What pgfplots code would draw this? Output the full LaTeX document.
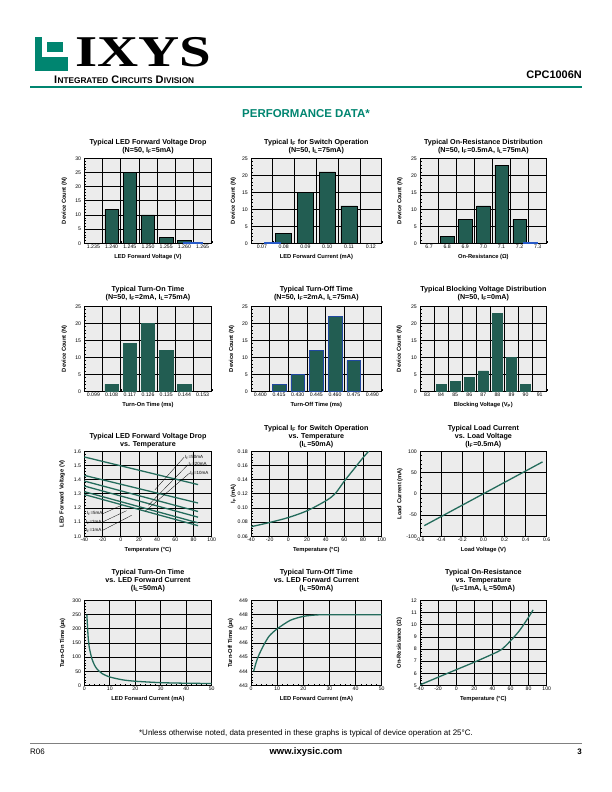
\documentclass[border=0pt]{standalone}
\usepackage{fontspec}
\setmainfont{Liberation Sans}
\newfontfamily\serifb{Liberation Serif}
\usepackage{pgfplots}
\pgfplotsset{compat=1.18}
\definecolor{barc}{RGB}{34,93,82}
\definecolor{lnc}{RGB}{36,108,92}
\definecolor{ixteal}{RGB}{0,133,112}
\definecolor{bgc}{RGB}{236,236,236}
\definecolor{stub}{RGB}{40,90,200}
\pgfplotsset{
  base/.style={
    scale only axis,
    axis line style={line width=0.9pt},
    axis background/.style={fill=bgc},
    tick align=inside, tick pos=left,
    major tick length=0pt, minor tick length=1.8pt,
    every tick/.style={black,line width=0.4pt},
    grid style={black,line width=0.8pt},
    minor grid style={black,line width=0.8pt},
    ymajorgrids,
    minor y tick num=4,
    tick label style={font=\fontsize{5.2}{5.5}\selectfont, inner sep=1pt},
    /pgf/number format/assume math mode=true,
    label style={font=\bfseries\fontsize{5.8}{6}\selectfont},
    title style={font=\bfseries\fontsize{7.2}{8}\selectfont, align=center, anchor=south, inner sep=0pt, at={(axis description cs:0.5,1)}},
    xlabel style={at={(axis description cs:0.5,0)}, anchor=center, yshift=-13.6pt},
    yticklabel style={xshift=-2pt},
    xticklabel style={yshift=-0.3pt},
    anchor=south west, width=127.4bp, height=85bp,
  },
  ylab/.style={ylabel style={at={(axis description cs:-#1,0.5)}, anchor=center}},
  barax/.style={base, xmin=0.5, xtick={1,...,#1}, minor xtick={1.5,2.5,...,#1}, xminorgrids, ymin=0},
  bars/.style={ybar, bar shift=0pt, bar width=0.74, fill=barc, draw=black, line width=0.5pt},
  stubbar/.style={ybar, bar shift=0pt, fill=stub, draw=stub, line width=0.3pt},
  lineax/.style={base, xmajorgrids},
  curve/.style={lnc, line width=1.3pt, no marks},
}
\begin{document}
\begin{tikzpicture}[x=1bp,y=1bp]
\useasboundingbox (0,0) rectangle (612,792);
% ---------- header ----------
\fill[ixteal] (35,721) rectangle (68,755);
\fill[white] (42,735) rectangle (68,755);
\fill[ixteal] (47,740) rectangle (63,750);
\node[anchor=base west, inner sep=0, text depth=0pt, font=\serifb\bfseries\fontsize{42}{42}\selectfont, xscale=1.36, yscale=1.05] at (75,725.5) {IXYS};
\node[anchor=base west, inner sep=0, font=\bfseries] at (54,708.5) {{\fontsize{11}{11}\selectfont I\kern0.3pt}{\fontsize{8.3}{8}\selectfont NTEGRATED}\hspace{3pt}{\fontsize{11}{11}\selectfont C\kern0.3pt}{\fontsize{8.3}{8}\selectfont IRCUITS}\hspace{3pt}{\fontsize{11}{11}\selectfont D\kern0.3pt}{\fontsize{8.3}{8}\selectfont IVISION}};
\node[anchor=base east, inner sep=0, font=\bfseries\fontsize{11}{11}\selectfont] at (582,713) {CPC1006N};
\draw[ixteal, line width=1.5] (30,705) -- (582,705);
\node[font=\bfseries\fontsize{11.5}{12}\selectfont, text=ixteal] at (306,678) {PERFORMANCE DATA*};
% ---------- footer ----------
\node[font=\fontsize{8}{9}\selectfont] at (306,59) {*Unless otherwise noted, data presented in these graphs is typical of device operation at 25°C.};
\draw[gray, line width=0.5] (30,49) -- (582,49);
\node[anchor=west, inner sep=0, font=\fontsize{8}{9}\selectfont] at (30,40) {R06};
\node[font=\bfseries\fontsize{9.5}{10}\selectfont] at (306,40) {www.ixysic.com};
\node[anchor=east, inner sep=0, font=\bfseries\fontsize{8}{9}\selectfont] at (582,40) {3};

% ---------- Row 1 ----------
\begin{axis}[barax=7, xmax=7.5, at={(84.3bp,548.7bp)}, ymax=30, ytick={0,5,...,30},
  title style={yshift=-1.5pt},
  xticklabels={1.235,1.240,1.245,1.250,1.255,1.260,1.265},
  title={Typical LED Forward Voltage Drop\\(N=50, I\textsubscript{F}=5mA)},
  xlabel={LED Forward Voltage (V)}, ylabel={Device Count (N)}, ylab=0.157]
\addplot[bars] coordinates {(2,12) (3,25) (4,10) (5,2) (6,1)};
\addplot[stubbar, bar width=1.0] coordinates {(6.45,0.35)};
\end{axis}

\begin{axis}[barax=6, xmax=6.5, at={(251bp,548.7bp)}, width=130.7bp, ymax=25, ytick={0,5,...,25},
  title style={yshift=-1.5pt},
  xticklabels={0.07,0.08,0.09,0.10,0.11,0.12},
  title={Typical I\textsubscript{F} for Switch Operation\\(N=50, I\textsubscript{L}=75mA)},
  xlabel={LED Forward Current (mA)}, ylabel={Device Count (N)}, ylab=0.135]
\addplot[bars] coordinates {(2,3) (3,15) (4,21) (5,11)};
\addplot[stubbar, bar width=0.72] coordinates {(1.46,0.3)};
\end{axis}

\begin{axis}[barax=7, xmax=7.5, at={(420bp,548.7bp)}, width=126.7bp, ymax=25, ytick={0,5,...,25},
  title style={yshift=-1.5pt},
  xticklabels={6.7,6.8,6.9,7.0,7.1,7.2,7.3},
  title={Typical On-Resistance Distribution\\(N=50, I\textsubscript{F}=0.5mA, I\textsubscript{L}=75mA)},
  xlabel={On-Resistance (Ω)}, ylabel={Device Count (N)}, ylab=0.158]
\addplot[bars] coordinates {(2,2) (3,7) (4,11) (5,23) (6,7)};
\addplot[stubbar, bar width=0.75] coordinates {(6.58,0.3)};
\end{axis}

% ---------- Row 2 ----------
\begin{axis}[barax=7, xmax=7.5, at={(84.3bp,400.7bp)}, ymax=25, ytick={0,5,...,25},
  title style={yshift=-1.3pt},
  xticklabels={0.099,0.108,0.117,0.126,0.135,0.144,0.153},
  title={Typical Turn-On Time\\(N=50, I\textsubscript{F}=2mA, I\textsubscript{L}=75mA)},
  xlabel={Turn-On Time (ms)}, ylabel={Device Count (N)}, ylab=0.157]
\addplot[bars, draw=barc] coordinates {(2,2) (3,14) (4,20) (5,12) (6,2)};
\end{axis}

\begin{axis}[barax=7, xmax=7.5, at={(251bp,400.7bp)}, width=130.7bp, ymax=25, ytick={0,5,...,25},
  title style={yshift=-1.3pt},
  xticklabels={0.400,0.415,0.430,0.445,0.460,0.475,0.490},
  title={Typical Turn-Off Time\\(N=50, I\textsubscript{F}=2mA, I\textsubscript{L}=75mA)},
  xlabel={Turn-Off Time (ms)}, ylabel={Device Count (N)}, ylab=0.148]
\addplot[bars, draw=stub!80!black] coordinates {(2,2) (3,5) (4,12) (5,22) (6,9)};
\end{axis}

\begin{axis}[barax=9, xmax=9.5, at={(420bp,400.7bp)}, width=126.7bp, ymax=25, ytick={0,5,...,25},
  title style={yshift=-1.3pt},
  xticklabels={83,84,85,86,87,88,89,90,91},
  title={Typical Blocking Voltage Distribution\\(N=50, I\textsubscript{F}=0mA)},
  xlabel={Blocking Voltage (V\textsubscript{P})}, ylabel={Device Count (N)}, ylab=0.163]
\addplot[bars, bar width=0.72, draw=barc] coordinates {(2,2) (3,3) (4,4) (5,6) (6,23) (7,10) (8,2)};
\end{axis}

% ---------- Row 3 ----------
\begin{axis}[lineax, at={(84.3bp,255.7bp)}, xmin=-40, xmax=100, ymin=1.0, ymax=1.6,
  xtick={-40,-20,...,100}, ytick={1.0,1.1,...,1.6}, clip=false,
  yticklabel style={/pgf/number format/.cd, fixed, fixed zerofill, precision=1},
  title style={yshift=-2.4pt},
  title={Typical LED Forward Voltage Drop\\vs. Temperature},
  xlabel={Temperature (°C)}, ylabel={LED Forward Voltage (V)}, ylab=0.173]
\addplot[curve] coordinates {(-40,1.560) (85,1.365)};
\addplot[curve] coordinates {(-40,1.430) (85,1.235)};
\addplot[curve] coordinates {(-40,1.390) (85,1.175)};
\addplot[curve] coordinates {(-40,1.355) (85,1.135)};
\addplot[curve] coordinates {(-40,1.315) (85,1.095)};
\addplot[curve] coordinates {(-40,1.295) (85,1.075)};
\draw[line width=0.3pt] (axis cs:69.5,1.557) -- (axis cs:37.7,1.329);
\draw[line width=0.3pt] (axis cs:73.8,1.505) -- (axis cs:30.4,1.219);
\draw[line width=0.3pt] (axis cs:75.8,1.447) -- (axis cs:26.7,1.176);
\draw[line width=0.3pt] (axis cs:-19.5,1.160) -- (axis cs:1.0,1.219);
\draw[line width=0.3pt] (axis cs:-20.5,1.099) -- (axis cs:6.5,1.181);
\draw[line width=0.3pt] (axis cs:-20.5,1.040) -- (axis cs:12.0,1.148);
\begin{scope}[every node/.style={font=\fontsize{4.5}{4.5}\selectfont, inner sep=0.4pt}]
\node[anchor=west] at (axis cs:70,1.558) {I\textsubscript{F}=50mA};
\node[anchor=west] at (axis cs:74,1.506) {I\textsubscript{F}=20mA};
\node[anchor=west] at (axis cs:76,1.447) {I\textsubscript{F}=10mA};
\node[anchor=east] at (axis cs:-19.5,1.160) {I\textsubscript{F}=5mA};
\node[anchor=east] at (axis cs:-20.5,1.099) {I\textsubscript{F}=2mA};
\node[anchor=east] at (axis cs:-20.5,1.040) {I\textsubscript{F}=1mA};
\end{scope}
\end{axis}

\begin{axis}[lineax, at={(251bp,255.7bp)}, width=130.7bp, xmin=-40, xmax=100, ymin=0.06, ymax=0.18,
  xtick={-40,-20,...,100}, ytick={0.06,0.08,...,0.181},
  yticklabel style={/pgf/number format/.cd, fixed, fixed zerofill, precision=2},
  title style={yshift=-2.4pt},
  title={Typical I\textsubscript{F} for Switch Operation\\vs. Temperature\\(I\textsubscript{L}=50mA)},
  xlabel={Temperature (°C)}, ylabel={I\textsubscript{F} (mA)}, ylab=0.135]
\addplot[curve, smooth] coordinates {(-40,0.0735) (-20,0.0795) (0,0.0865) (20,0.0960) (40,0.1100) (50,0.1200) (60,0.1380) (70,0.1545) (80,0.1710) (86,0.1800)};
\end{axis}

\begin{axis}[lineax, at={(420bp,255.7bp)}, width=126.7bp, xmin=-0.6, xmax=0.6, ymin=-100, ymax=100,
  xtick={-0.6,-0.4,...,0.61}, ytick={-100,-50,...,100},
  xticklabel style={/pgf/number format/.cd, fixed, fixed zerofill, precision=1},
  title style={yshift=-2.4pt},
  title={Typical Load Current\\vs. Load Voltage\\(I\textsubscript{F}=0.5mA)},
  xlabel={Load Voltage (V)}, ylabel={Load Current (mA)}, ylab=0.158]
\addplot[curve] coordinates {(-0.56,-75) (0,0) (0.56,75)};
\end{axis}

% ---------- Row 4 ----------
\begin{axis}[lineax, at={(84.3bp,106.5bp)}, xmin=0, xmax=50, ymin=0, ymax=300,
  xtick={0,10,...,50}, ytick={0,50,...,300}, minor x tick num=4,
  title style={yshift=2pt},
  title={Typical Turn-On Time\\vs. LED Forward Current\\(I\textsubscript{L}=50mA)},
  xlabel={LED Forward Current (mA)}, ylabel={Turn-On Time (µs)}, ylab=0.17]
\addplot[curve, smooth, tension=0.4] coordinates {(1,250) (1.5,172) (2,132) (3,94) (4,72) (5,58) (7,42) (10,30) (15,20) (20,15) (30,10) (40,8) (50,7)};
\end{axis}

\begin{axis}[lineax, at={(251bp,106.5bp)}, width=130.7bp, xmin=0, xmax=50, ymin=443, ymax=449,
  xtick={0,10,...,50}, ytick={443,...,449}, minor x tick num=4,
  title style={yshift=2pt},
  title={Typical Turn-Off Time\\vs. LED Forward Current\\(I\textsubscript{L}=50mA)},
  xlabel={LED Forward Current (mA)}, ylabel={Turn-Off Time (µs)}, ylab=0.155]
\addplot[curve, smooth, tension=0.4] coordinates {(1,444) (2,444.65) (3,445.15) (5,445.9) (7,446.5) (10,447.0) (15,447.6) (20,447.88) (25,447.98) (30,448) (40,448) (50,448)};
\end{axis}

\begin{axis}[lineax, at={(420bp,106.5bp)}, width=126.7bp, xmin=-40, xmax=100, ymin=5, ymax=12,
  xtick={-40,-20,...,100}, ytick={5,...,12},
  title style={yshift=2pt},
  title={Typical On-Resistance\\vs. Temperature\\(I\textsubscript{F}=1mA, I\textsubscript{L}=50mA)},
  xlabel={Temperature (°C)}, ylabel={On-Resistance (Ω)}, ylab=0.163]
\addplot[curve, smooth] coordinates {(-40,5.05) (-20,5.68) (0,6.3) (20,6.92) (40,7.58) (50,7.96) (60,8.68) (70,9.53) (80,10.63) (85,11.23)};
\end{axis}
\end{tikzpicture}
\end{document}
